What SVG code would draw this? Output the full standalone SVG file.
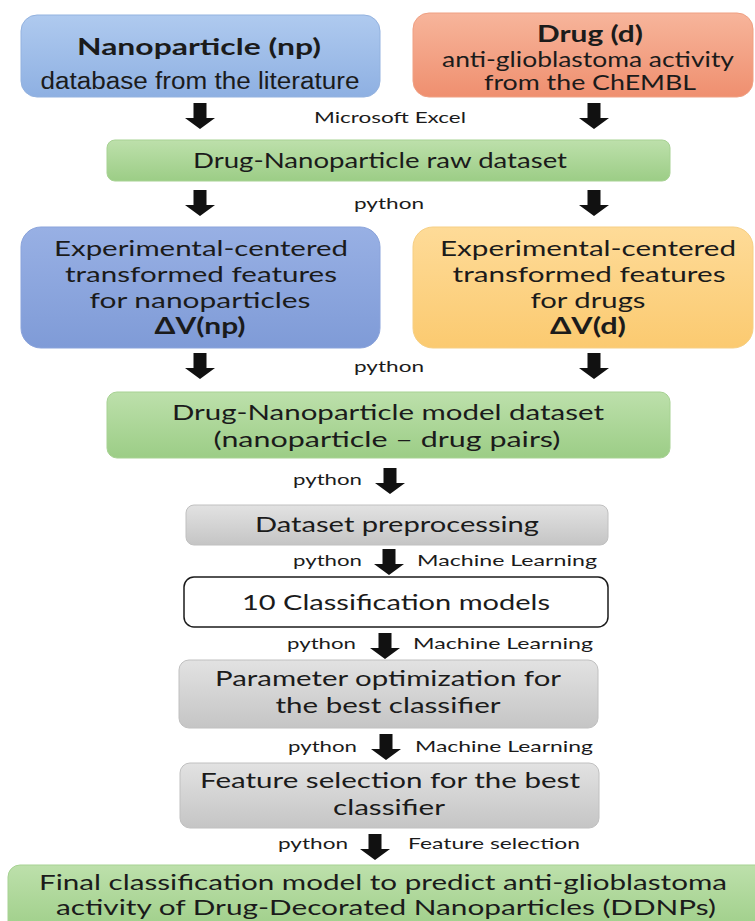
<svg xmlns="http://www.w3.org/2000/svg" width="755" height="921" viewBox="0 0 755 921">
<style>
text{font-family:Lato,"Open Sans","Liberation Sans",sans-serif;fill:#1b1b1b;text-anchor:middle}
.m{font-size:22px}
.m2{font-size:21px}
.b{font-size:22px;font-weight:bold}
.a{font-family:"Liberation Sans",Arial,sans-serif;font-size:23px}
.s{font-size:16px}
.s2{font-size:16px;text-anchor:start}
.gb{stroke:#c0c0c0;stroke-width:1}
</style>
<defs>
<linearGradient id="gBlue1" x1="0" y1="0" x2="0" y2="1"><stop offset="0" stop-color="#afcaef"/><stop offset="1" stop-color="#8eb0e2"/></linearGradient>
<linearGradient id="gSalmon" x1="0" y1="0" x2="0" y2="1"><stop offset="0" stop-color="#f7b59b"/><stop offset="1" stop-color="#ef8f6f"/></linearGradient>
<linearGradient id="gGreen" x1="0" y1="0" x2="0" y2="1"><stop offset="0" stop-color="#bde0ab"/><stop offset="1" stop-color="#9ccd86"/></linearGradient>
<linearGradient id="gBlue2" x1="0" y1="0" x2="0" y2="1"><stop offset="0" stop-color="#98b0e4"/><stop offset="1" stop-color="#7f9bd7"/></linearGradient>
<linearGradient id="gYellow" x1="0" y1="0" x2="0" y2="1"><stop offset="0" stop-color="#fedb98"/><stop offset="1" stop-color="#fbca70"/></linearGradient>
<linearGradient id="gGray" x1="0" y1="0" x2="0" y2="1"><stop offset="0" stop-color="#e2e2e2"/><stop offset="1" stop-color="#c5c5c5"/></linearGradient>
<path id="arr" d="M-6.5,-26 H6.5 V-11 H15 L0,0 L-15,-11 H-6.5 Z" fill="#111"/>
</defs>
<rect width="755" height="921" fill="#ffffff"/>

<g id="node-nanoparticle">
<rect x="21" y="15" width="359" height="82" rx="16" fill="url(#gBlue1)" stroke="#93b2df"/>
<text class="b" x="199" y="55" textLength="244" lengthAdjust="spacingAndGlyphs">Nanoparticle (np)</text>
<text class="a" x="200" y="89" textLength="319" lengthAdjust="spacingAndGlyphs">database from the literature</text>
</g>
<g id="node-drug">
<rect x="413" y="13" width="340" height="84" rx="16" fill="url(#gSalmon)" stroke="#efa083"/>
<text class="b" x="590" y="42" textLength="106" lengthAdjust="spacingAndGlyphs">Drug (d)</text>
<text class="m2" x="588" y="67" textLength="292" lengthAdjust="spacingAndGlyphs">anti-glioblastoma activity</text>
<text class="m2" x="590" y="90" textLength="212" lengthAdjust="spacingAndGlyphs">from the ChEMBL</text>
</g>
<g id="node-raw">
<rect x="107" y="140" width="563" height="41" rx="8" fill="url(#gGreen)" stroke="#a7d293"/>
<text class="m" x="380" y="168" textLength="374" lengthAdjust="spacingAndGlyphs">Drug-Nanoparticle raw dataset</text>
</g>
<g id="node-exp-np">
<rect x="21" y="227" width="359" height="121" rx="20" fill="url(#gBlue2)" stroke="#8aa3db"/>
<text class="m" x="201" y="256" textLength="294" lengthAdjust="spacingAndGlyphs">Experimental-centered</text>
<text class="m" x="201" y="282" textLength="272" lengthAdjust="spacingAndGlyphs">transformed features</text>
<text class="m" x="200" y="308" textLength="221" lengthAdjust="spacingAndGlyphs">for nanoparticles</text>
<text class="b" x="200" y="334" textLength="91" lengthAdjust="spacingAndGlyphs">ΔV(np)</text>
</g>
<g id="node-exp-d">
<rect x="413" y="227" width="340" height="121" rx="20" fill="url(#gYellow)" stroke="#f6cf84"/>
<text class="m" x="588" y="256" textLength="296" lengthAdjust="spacingAndGlyphs">Experimental-centered</text>
<text class="m" x="589" y="282" textLength="273" lengthAdjust="spacingAndGlyphs">transformed features</text>
<text class="m" x="588" y="308" textLength="115" lengthAdjust="spacingAndGlyphs">for drugs</text>
<text class="b" x="588" y="334" textLength="76" lengthAdjust="spacingAndGlyphs">ΔV(d)</text>
</g>
<g id="node-model">
<rect x="107" y="392" width="563" height="66" rx="10" fill="url(#gGreen)" stroke="#a7d293"/>
<text class="m" x="388" y="420" textLength="432" lengthAdjust="spacingAndGlyphs">Drug-Nanoparticle model dataset</text>
<text class="m" x="387" y="447" textLength="347" lengthAdjust="spacingAndGlyphs">(nanoparticle – drug pairs)</text>
</g>
<g id="node-preprocessing">
<rect x="186" y="505" width="422" height="40" rx="8" fill="url(#gGray)" class="gb"/>
<text class="m" x="397" y="532" textLength="284" lengthAdjust="spacingAndGlyphs">Dataset preprocessing</text>
</g>
<g id="node-classification">
<rect x="184" y="577" width="424" height="50" rx="10" fill="#ffffff" stroke="#1b1b1b" stroke-width="1.5"/>
<text class="m" x="396" y="610" textLength="308" lengthAdjust="spacingAndGlyphs">10 Classification models</text>
</g>
<g id="node-parameter">
<rect x="179" y="660" width="419" height="68" rx="10" fill="url(#gGray)" class="gb"/>
<text class="m" x="388" y="686" textLength="346" lengthAdjust="spacingAndGlyphs">Parameter optimization for</text>
<text class="m" x="388" y="713" textLength="225" lengthAdjust="spacingAndGlyphs">the best classifier</text>
</g>
<g id="node-feature">
<rect x="180" y="763" width="419" height="65" rx="10" fill="url(#gGray)" class="gb"/>
<text class="m" x="390" y="788" textLength="380" lengthAdjust="spacingAndGlyphs">Feature selection for the best</text>
<text class="m" x="389" y="815" textLength="112" lengthAdjust="spacingAndGlyphs">classifier</text>
</g>
<g id="node-final">
<rect x="8" y="865" width="765" height="72" rx="12" fill="url(#gGreen)" stroke="#a7d293"/>
<text class="m2" x="383" y="890" textLength="688" lengthAdjust="spacingAndGlyphs">Final classification model to predict anti-glioblastoma</text>
<text class="m2" x="386" y="915" textLength="660" lengthAdjust="spacingAndGlyphs">activity of Drug-Decorated Nanoparticles (DDNPs)</text>
</g>

<g id="connectors">
<use href="#arr" x="200" y="129"/>
<use href="#arr" x="594" y="129"/>
<use href="#arr" x="200" y="216"/>
<use href="#arr" x="594" y="216"/>
<use href="#arr" x="200" y="379"/>
<use href="#arr" x="594" y="379"/>
<use href="#arr" x="390" y="494"/>
<use href="#arr" x="389" y="575"/>
<use href="#arr" x="385" y="659"/>
<use href="#arr" x="386" y="760"/>
<use href="#arr" x="375" y="860"/>
<text class="s" x="390" y="123" textLength="152" lengthAdjust="spacingAndGlyphs">Microsoft Excel</text>
<text class="s" x="389" y="209" textLength="70" lengthAdjust="spacingAndGlyphs">python</text>
<text class="s" x="389" y="372" textLength="70" lengthAdjust="spacingAndGlyphs">python</text>
<text class="s" x="327.5" y="485" textLength="69" lengthAdjust="spacingAndGlyphs">python</text>
<text class="s" x="327.5" y="566" textLength="69" lengthAdjust="spacingAndGlyphs">python</text>
<text class="s2" x="417" y="566" textLength="180" lengthAdjust="spacingAndGlyphs">Machine Learning</text>
<text class="s" x="321.5" y="649" textLength="69" lengthAdjust="spacingAndGlyphs">python</text>
<text class="s2" x="413" y="649" textLength="180" lengthAdjust="spacingAndGlyphs">Machine Learning</text>
<text class="s" x="322.5" y="752" textLength="69" lengthAdjust="spacingAndGlyphs">python</text>
<text class="s2" x="415" y="752" textLength="178" lengthAdjust="spacingAndGlyphs">Machine Learning</text>
<text class="s" x="313" y="849" textLength="70" lengthAdjust="spacingAndGlyphs">python</text>
<text class="s2" x="408" y="849" textLength="172" lengthAdjust="spacingAndGlyphs">Feature selection</text>
</g>
</svg>
